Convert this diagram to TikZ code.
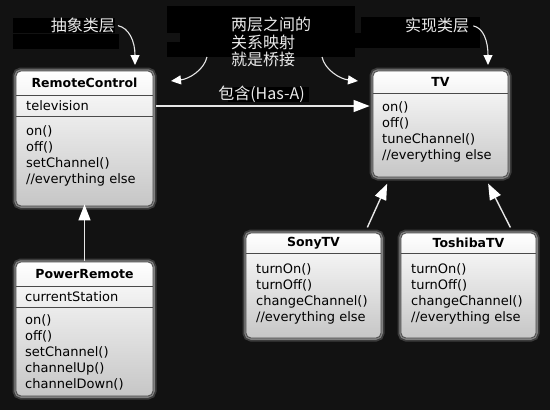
\documentclass[tikz,border=0pt]{standalone}
\usepackage{fontspec}
\setmainfont{DejaVu Sans}
\newfontfamily\cjk{Noto Sans CJK SC}
\usetikzlibrary{arrows.meta,calc}
\definecolor{bgc}{HTML}{121212}
\definecolor{boxbot}{HTML}{C6C6C6}
\definecolor{edgec}{HTML}{4A4A4A}
\definecolor{labc}{HTML}{EAEAEA}
\definecolor{shaft}{HTML}{E6E6E6}
\begin{document}
\begin{tikzpicture}[x=1pt,y=-1pt,
  umlbox/.style={rectangle, rounded corners=5pt, draw=edgec, line width=0.8pt,
    top color=white, bottom color=boxbot, inner sep=0pt,
    preaction={draw=white, opacity=.18, line width=7pt},
    preaction={draw=white, opacity=.35, line width=3.5pt}},
  ttl/.style={font=\fontsize{12.5}{16}\selectfont\bfseries, text=black, inner sep=0pt},
  attr/.style={anchor=west, font=\fontsize{13}{16}\selectfont, text=black, inner sep=0pt},
  ops/.style={anchor=north west, align=left, font=\fontsize{13}{16}\selectfont, text=black, inner sep=0pt},
  sepline/.style={draw=edgec, line width=0.8pt},
  cn/.style={font=\cjk\fontsize{16}{17.5}\selectfont, text=labc, inner sep=0pt},
  conn/.style={draw=shaft, line width=1.4pt, -{Triangle[length=16pt,width=12pt,color=white]}},
  curv/.style={draw=shaft, line width=1.1pt, -{Triangle[length=10pt,width=9pt,color=white]}},
  blk/.style={fill=black}
]
\fill[bgc] (0,0) rectangle (550,410);
\useasboundingbox (0,0) rectangle (550,410);

% black highlight rectangles
\fill[blk] (13,18) rectangle (115,33);
\fill[blk] (13,34) rectangle (119,49);
\fill[blk] (167,6) rectangle (355,33);
\fill[blk] (180,33) rectangle (355,42);
\fill[blk] (167,42) rectangle (355,57);
\fill[blk] (355,33) rectangle (480,48);
\fill[blk] (361,17) rectangle (480,33);
\fill[blk] (228,87) rectangle (309,102);

% labels
\node[cn, anchor=east] (absL) at (115,25) {抽象类层};
\node[cn, anchor=west] (impL) at (405,25) {实现类层};
\node[cn, anchor=north west, align=left] (bridge) at (231,17) {两层之间的\\关系映射\\就是桥接};
\node[cn] (hasa) at (261.5,94) {包含(Has-A)};

% RemoteControl
\node[umlbox, minimum width=137pt, minimum height=135pt] (rc) at (84.5,138.5) {};
\node[ttl] (rct) at (84.5,83) {RemoteControl};
\draw[sepline] (rc.west |- 0,95) -- (rc.east |- 0,95);
\node[attr] (rca) at (26,106) {television};
\draw[sepline] (rc.west |- 0,116) -- (rc.east |- 0,116);
\node[ops] (rco) at (26,125) {on()\\off()\\setChannel()\\//everything else};

% TV
\node[umlbox, minimum width=135pt, minimum height=106pt] (tv) at (440.5,124) {};
\node[ttl] (tvt) at (440.5,82) {TV};
\draw[sepline] (tv.west |- 0,93) -- (tv.east |- 0,93);
\node[ops] (tvo) at (382,101) {on()\\off()\\tuneChannel()\\//everything else};

% PowerRemote
\node[umlbox, minimum width=137pt, minimum height=134pt] (pr) at (84.5,329) {};
\node[ttl] (prt) at (84.5,274) {PowerRemote};
\draw[sepline] (pr.west |- 0,286) -- (pr.east |- 0,286);
\node[attr] (pra) at (25,297) {currentStation};
\draw[sepline] (pr.west |- 0,307) -- (pr.east |- 0,307);
\node[ops] (pro) at (25,314) {on()\\off()\\setChannel()\\channelUp()\\channelDown()};

% SonyTV
\node[umlbox, minimum width=135pt, minimum height=105pt] (sony) at (313.5,285.5) {};
\node[ttl] (sonyt) at (313.5,243) {SonyTV};
\draw[sepline] (sony.west |- 0,253) -- (sony.east |- 0,253);
\node[ops] (sonyo) at (256,263) {turnOn()\\turnOff()\\changeChannel()\\//everything else};

% ToshibaTV
\node[umlbox, minimum width=135pt, minimum height=105pt] (tosh) at (468.5,285.5) {};
\node[ttl] (tosht) at (468.5,243) {ToshibaTV};
\draw[sepline] (tosh.west |- 0,253) -- (tosh.east |- 0,253);
\node[ops] (tosho) at (411,263) {turnOn()\\turnOff()\\changeChannel()\\//everything else};

% connectors
\draw[conn, shorten <=3pt, shorten >=3pt] (rc.east |- rca) -- (tv.west |- rca);
\draw[conn, shorten <=1pt, shorten >=-2pt] (pr.north) -- (rc.south);
\draw[conn, shorten <=5.7pt, shorten >=6.9pt] ([xshift=51.5pt]sony.north) -- ([xshift=-50.5pt]tv.south);
\draw[conn, shorten <=5.7pt, shorten >=6.9pt] ([xshift=44.5pt]tosh.north) -- ([xshift=44.5pt]tv.south);

% curved pointers
\coordinate (cAbs) at (135,65);
\coordinate (cImp) at (488,65);
\coordinate (bL) at (207,57);
\coordinate (bR) at (322,57);
\coordinate (tL) at (171,81);
\coordinate (tR) at (358,81);
\draw[curv, shorten <=3pt] (absL.east) .. controls +(14,3) and +(0,-24) .. (cAbs);
\draw[curv, shorten <=4pt] (impL.east) .. controls +(14,3) and +(0,-24) .. (cImp);
\draw[curv] (bL) .. controls +(-3,13) and +(18,-2) .. (tL);
\draw[curv] (bR) .. controls +(3,13) and +(-18,-2) .. (tR);
\end{tikzpicture}
\end{document}
